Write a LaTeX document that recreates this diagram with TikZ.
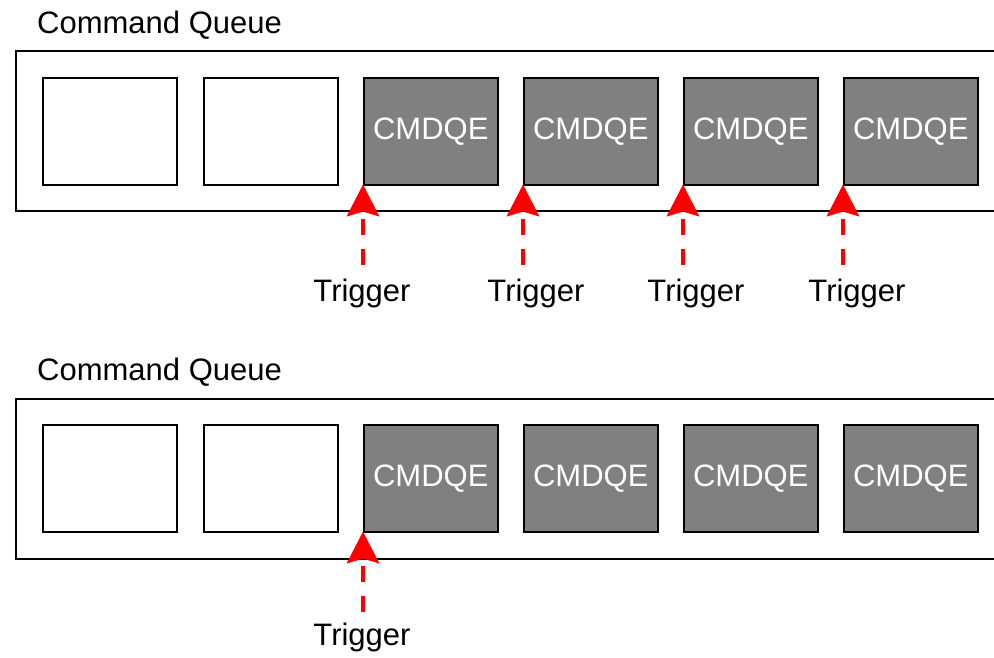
\documentclass[tikz,border=0pt]{standalone}
\usepackage{fontspec}
\setmainfont{Liberation Sans}
\usetikzlibrary{arrows.meta}
\definecolor{cmdgray}{HTML}{808080}
\definecolor{trigred}{HTML}{FF0000}
\tikzset{
  lbl/.style={font=\fontsize{31}{36}\selectfont, inner sep=0pt},
  queuebox/.style={draw=black, line width=1.6pt, fill=white, anchor=north west, minimum width=985pt, minimum height=160pt, inner sep=0pt},
  slotbox/.style={draw=black, line width=1.6pt, fill=white, anchor=north west, minimum width=134pt, minimum height=107pt, inner sep=0pt},
  cmdbox/.style={slotbox, fill=cmdgray, text=white, font=\fontsize{31}{36}\selectfont},
  trig/.style={draw=trigred, line width=4pt, dash pattern=on 16pt off 14pt, -{Stealth[length=32pt, width=33pt, inset=5pt, line width=0pt]}, shorten >=-1pt},
}
\begin{document}
\begin{tikzpicture}[x=1pt, y=-1pt]
\useasboundingbox (0,0) rectangle (994,657);
\clip (0,0) rectangle (994,657);
% ---------- top panel ----------
\node[lbl, anchor=west] (t1) at (37,25) {Command Queue};
\node[queuebox] (q1) at (15,50) {};
\node[slotbox] (a1) at (42,77) {};
\node[slotbox] (a2) at (203,77) {};
\node[cmdbox] (a3) at (363,77) {CMDQE};
\node[cmdbox] (a4) at (523,77) {CMDQE};
\node[cmdbox] (a5) at (683,77) {CMDQE};
\node[cmdbox] (a6) at (843,77) {CMDQE};
\coordinate (s3) at (363,265);
\coordinate (s4) at (523,265);
\coordinate (s5) at (683,265);
\coordinate (s6) at (843,265);
\draw[trig] (s3) -- (a3.south west);
\draw[trig] (s4) -- (a4.south west);
\draw[trig] (s5) -- (a5.south west);
\draw[trig] (s6) -- (a6.south west);
\node[lbl] (g3) at (362,293) {Trigger};
\node[lbl] (g4) at (536,293) {Trigger};
\node[lbl] (g5) at (696,293) {Trigger};
\node[lbl] (g6) at (857,293) {Trigger};
% ---------- bottom panel ----------
\node[lbl, anchor=west] (t2) at (37,372) {Command Queue};
\node[queuebox] (q2) at (15,398) {};
\node[slotbox] (b1) at (42,424) {};
\node[slotbox] (b2) at (203,424) {};
\node[cmdbox] (b3) at (363,424) {CMDQE};
\node[cmdbox] (b4) at (523,424) {CMDQE};
\node[cmdbox] (b5) at (683,424) {CMDQE};
\node[cmdbox] (b6) at (843,424) {CMDQE};
\coordinate (u3) at (363,612);
\draw[trig] (u3) -- (b3.south west);
\node[lbl] (h3) at (362,637) {Trigger};
\end{tikzpicture}
\end{document}
